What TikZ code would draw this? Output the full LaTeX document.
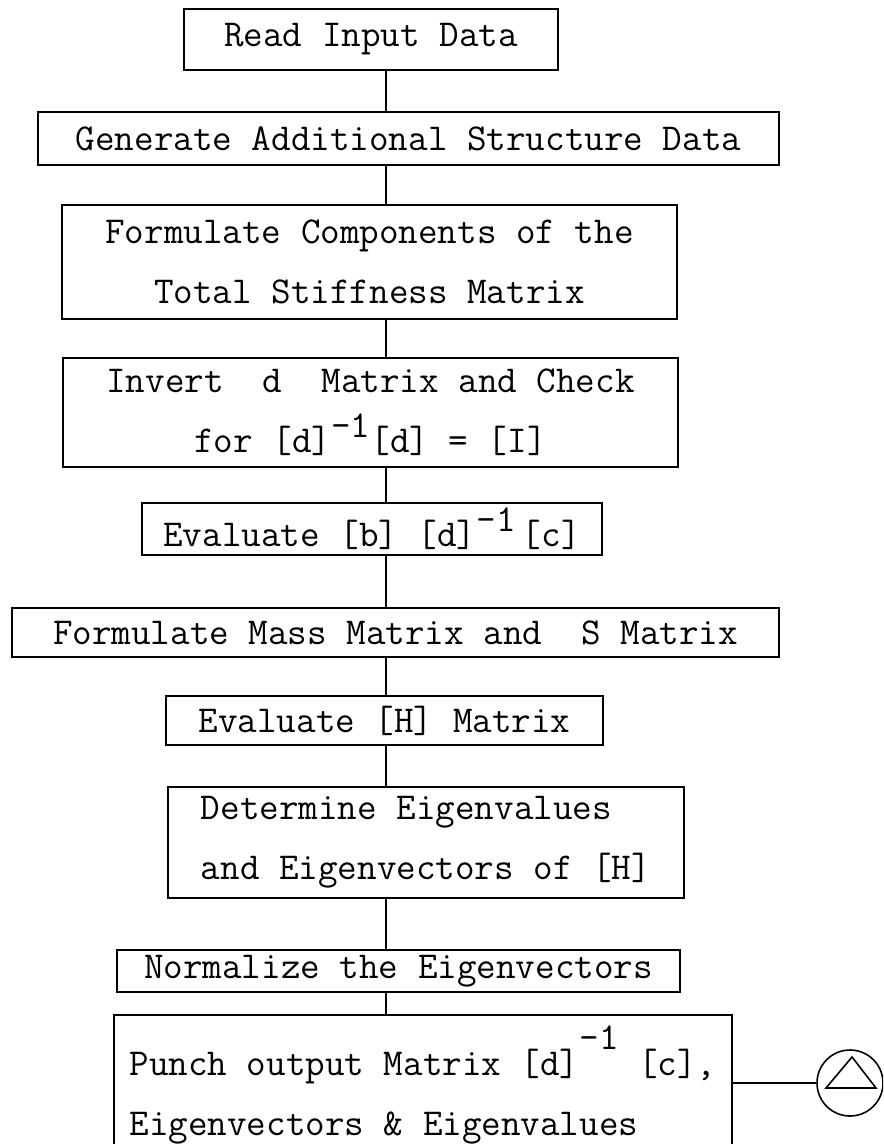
\documentclass[tikz,border=0pt]{standalone}
\usepackage{tikz}

\tikzset{
  stepbox/.style={draw, inner sep=0pt, align=center,
    font=\fontsize{19}{30}\selectfont\ttfamily},
  offpage/.style={draw, circle, inner sep=0pt, minimum size=33pt},
}
\newcommand{\supr}[2][.4em]{\raisebox{#1}{#2}}

\begin{document}
\begin{tikzpicture}[x=0.5pt,y=-0.5pt,line width=0.8pt]
  \useasboundingbox (0,0) rectangle (883,1144);
  \clip (0,0) rectangle (883,1144);
  \coordinate (col) at (386,0);
  % program steps, top to bottom
  \node[stepbox,minimum width=187pt,minimum height=30.5pt] (read) at (371,39.5) {Read Input Data};
  \node[stepbox,minimum width=370.5pt,minimum height=26.5pt] (gen) at (408.5,138.5) {Generate Additional Structure Data};
  \node[stepbox,minimum width=307.5pt,minimum height=57pt] (stiff) at (369.5,262) {Formulate Components of the\\Total Stiffness Matrix};
  \node[stepbox,minimum width=307.5pt,minimum height=54.5pt] (inv) at (370.5,412.5) {Invert\ \ d\ \ Matrix and Check\\for [d]\supr{-1}[d] = [I]};
  \node[stepbox,minimum width=230pt,minimum height=26pt] (evb) at (372,529) {Evaluate [b] [d]\supr{-1}\,[c]};
  \node[stepbox,minimum width=383.5pt,minimum height=24.5pt] (mass) at (395.5,632.5) {Formulate Mass Matrix and\ \ S Matrix};
  \node[stepbox,minimum width=218.5pt,minimum height=24.5pt] (evh) at (384.5,720.5) {Evaluate [H] Matrix};
  \node[stepbox,align=left,minimum width=258pt,minimum height=55.5pt] (eig) at (426,842.5) {Determine Eigenvalues\\and Eigenvectors of [H]};
  \node[stepbox,minimum width=281.5pt,minimum height=21pt] (norm) at (398.5,971) {Normalize the Eigenvectors};
  % last box runs off the bottom of the page
  \node[stepbox,draw=none,align=left,minimum width=308pt,minimum height=69pt] (out) at (423,1085) {Punch output Matrix [d]\supr[.7em]{-1} [c],\\Eigenvectors \& Eigenvalues};
  \draw (out.south west) -- (out.north west) -- (out.north east) -- (out.south east);
  % off-page connector
  \node[offpage] (conn) at (850,1083) {};
  \draw ([shift={(2,-26)}]conn.center) -- ([shift={(-24,5)}]conn.center)
    -- ([shift={(26,5)}]conn.center) -- cycle;
  % flow lines
  \foreach \a/\b in {read/gen,gen/stiff,stiff/inv,inv/evb,evb/mass,mass/evh,evh/eig,eig/norm,norm/out}
    \draw (\a.south -| col) -- (\b.north -| col);
  \draw (out.east |- conn) -- (conn);
\end{tikzpicture}
\end{document}
